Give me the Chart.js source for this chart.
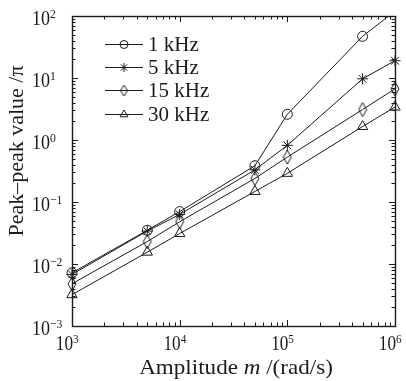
<!DOCTYPE html>
<html><head><meta charset="utf-8">
<script src="https://cdn.jsdelivr.net/npm/chart.js@4.4.0/dist/chart.umd.min.js"></script>
<style>html,body{margin:0;padding:0;background:#fff}#wrap{width:406px;height:381px}</style>
</head><body><div id="wrap"><canvas id="c" width="406" height="381"></canvas></div>
<script>
const amplitudes = [1e3, 5e3, 1e4, 5e4, 1e5, 5e5, 1e6];
const series1kHz = [0.0072, 0.035, 0.07, 0.385, 2.6, 47, 120];
const series5kHz = [0.0068, 0.034, 0.063, 0.33, 0.82, 9.7, 19];
const series15kHz = [0.0048, 0.023, 0.048, 0.24, 0.53, 3.1, 6.7];
const series30kHz = [0.0032, 0.0155, 0.031, 0.148, 0.29, 1.65, 3.4];
const seriesNames = ['1 kHz', '5 kHz', '15 kHz', '30 kHz'];
const xDecades = [3, 4, 5, 6];
const yDecades = [-3, -2, -1, 0, 1, 2];
const xTitle = ['Amplitude ', 'm', ' /(rad/s)'];
const yTitle = 'Peak\u2013peak value /\u03c0';

const SERIF = '"Liberation Serif","DejaVu Serif",serif';
const INK = '#1a1a1a';

function diamondCanvas(h) {
  const c = document.createElement('canvas');
  c.width = Math.round(h * 0.6) + 2; c.height = h + 2;
  const g = c.getContext('2d');
  g.strokeStyle = INK; g.lineWidth = 1;
  const cx = c.width / 2, cy = c.height / 2;
  g.beginPath();
  g.moveTo(cx, 1); g.lineTo(c.width - 1, cy); g.lineTo(cx, c.height - 1); g.lineTo(1, cy); g.closePath();
  g.stroke();
  return c;
}
const diamond = diamondCanvas(14);
const diamondSmall = diamondCanvas(11);
const styles = ['circle', 'star', diamond, 'triangle'];
const legendStyles = ['circle', 'star', diamondSmall, 'triangle'];
const radii = [5, 5.5, 6, 6];
const legendRadii = [4, 4.5, 5, 4.5];
const allSeries = [series1kHz, series5kHz, series15kHz, series30kHz];

const datasets = allSeries.map((s, i) => ({
  label: seriesNames[i],
  data: amplitudes.map((x, j) => ({x: x, y: s[j]})),
  borderColor: INK,
  borderWidth: 1,
  backgroundColor: 'rgba(0,0,0,0)',
  pointStyle: styles[i],
  pointRadius: radii[i],
  pointBorderColor: INK,
  pointBorderWidth: 1,
  pointBackgroundColor: 'rgba(0,0,0,0)',
  clip: {left: 10, top: 0, right: 10, bottom: 10}
}));

function drawPow(ctx, exp, x, baseline, mode, sx) {
  const big = '20px ' + SERIF, small = '13px ' + SERIF;
  const e = exp < 0 ? '\u2212' + Math.abs(exp) : String(exp);
  ctx.textBaseline = 'alphabetic';
  ctx.font = big;
  const w1 = ctx.measureText('10').width * sx;
  let x0 = mode === 'tick' ? x - w1 + 1 : x;
  ctx.save();
  ctx.translate(x0, baseline); ctx.scale(sx, 1);
  ctx.textAlign = 'left';
  ctx.fillText('10', 0, 0);
  ctx.restore();
  ctx.save();
  ctx.translate(x0 + w1, baseline - 7); ctx.scale(sx, 1);
  ctx.font = small; ctx.textAlign = 'left';
  ctx.fillText(e, 0, 0);
  ctx.restore();
}

const decor = {
  id: 'decor',
  afterDraw(chart) {
    const ctx = chart.ctx;
    const a = chart.chartArea;
    const xs = chart.scales.x, ys = chart.scales.y;
    ctx.save();
    ctx.strokeStyle = INK; ctx.fillStyle = INK; ctx.lineWidth = 1;
    // frame
    ctx.lineWidth = 1.4;
    ctx.strokeRect(Math.round(a.left) + 0.5, Math.round(a.top) + 0.5, Math.round(a.right - a.left), Math.round(a.bottom - a.top));
    ctx.lineWidth = 1;
    // ticks
    ctx.beginPath();
    const xMax = Math.pow(10, xDecades[xDecades.length - 1]);
    for (let d = xDecades[0]; d <= xDecades[xDecades.length - 1]; d++) {
      for (let k = 1; k <= 9; k++) {
        const v = k * Math.pow(10, d);
        if (v > xMax * 1.0001) break;
        const px = Math.round(xs.getPixelForValue(v)) + 0.5;
        const len = k === 1 ? 6 : 3.5;
        ctx.moveTo(px, a.bottom); ctx.lineTo(px, a.bottom - len);
        ctx.moveTo(px, a.top); ctx.lineTo(px, a.top + len);
      }
    }
    const yMax = Math.pow(10, yDecades[yDecades.length - 1]);
    for (let d = yDecades[0]; d <= yDecades[yDecades.length - 1]; d++) {
      for (let k = 1; k <= 9; k++) {
        const v = k * Math.pow(10, d);
        if (v > yMax * 1.0001) break;
        const py = Math.round(ys.getPixelForValue(v)) + 0.5;
        const len = k === 1 ? 6 : 3.5;
        ctx.moveTo(a.left, py); ctx.lineTo(a.left + len, py);
        ctx.moveTo(a.right, py); ctx.lineTo(a.right - len, py);
      }
    }
    ctx.stroke();
    // tick labels
    xDecades.forEach(d => {
      drawPow(ctx, d, xs.getPixelForValue(Math.pow(10, d)), 350, 'tick', 0.86);
    });
    yDecades.forEach(d => {
      drawPow(ctx, d, 32, ys.getPixelForValue(Math.pow(10, d)) + 8.5, 'left', 0.9);
    });
    // x title
    ctx.textBaseline = 'alphabetic'; ctx.textAlign = 'left';
    const fonts = ['21px ' + SERIF, 'italic 21px ' + SERIF, '21px ' + SERIF];
    const sxT = 1.1;
    let widths = xTitle.map((t, i) => { ctx.font = fonts[i]; return ctx.measureText(t).width * sxT; });
    let tw = widths.reduce((p, q) => p + q, 0);
    let tx = 236 - tw / 2;
    xTitle.forEach((t, i) => {
      ctx.save(); ctx.translate(tx, 374); ctx.scale(sxT, 1);
      ctx.font = fonts[i]; ctx.fillText(t, 0, 0); ctx.restore();
      tx += widths[i];
    });
    // y title
    ctx.save();
    ctx.translate(23, 151);
    ctx.rotate(-Math.PI / 2);
    ctx.font = '22px ' + SERIF; ctx.textAlign = 'center';
    ctx.fillText(yTitle, 0, 0);
    ctx.restore();
    // legend
    const rowY = [43.5, 66.5, 90, 113.5];
    chart.data.datasets.forEach((ds, i) => {
      const y = Math.round(rowY[i]) + 0.5;
      ctx.strokeStyle = INK;
      ctx.beginPath(); ctx.moveTo(105, y); ctx.lineTo(143, y); ctx.stroke();
      ctx.fillStyle = 'rgba(0,0,0,0)';
      ctx.beginPath();
      Chart.helpers.drawPoint(ctx, {pointStyle: legendStyles[i], radius: legendRadii[i], rotation: 0, borderWidth: 1}, 124, y);
      ctx.fillStyle = INK;
      ctx.font = '21px ' + SERIF; ctx.textAlign = 'left'; ctx.textBaseline = 'alphabetic';
      ctx.fillText(ds.label, 148, y + 6);
    });
    ctx.restore();
  }
};

new Chart(document.getElementById('c'), {
  type: 'line',
  data: {datasets},
  options: {
    responsive: false,
    animation: false,
    devicePixelRatio: 1,
    layout: {padding: {left: 72, right: 11, top: 16, bottom: 55}},
    plugins: {legend: {display: false}, tooltip: {enabled: false}},
    scales: {
      x: {type: 'logarithmic', min: 1e3, max: 1e6,
          ticks: {display: false}, grid: {display: false}, border: {display: false},
          afterFit(s) { s.height = 0; }},
      y: {type: 'logarithmic', min: 1e-3, max: 1e2,
          ticks: {display: false}, grid: {display: false}, border: {display: false},
          afterFit(s) { s.width = 0; }}
    }
  },
  plugins: [decor]
});
</script>
</body></html>
